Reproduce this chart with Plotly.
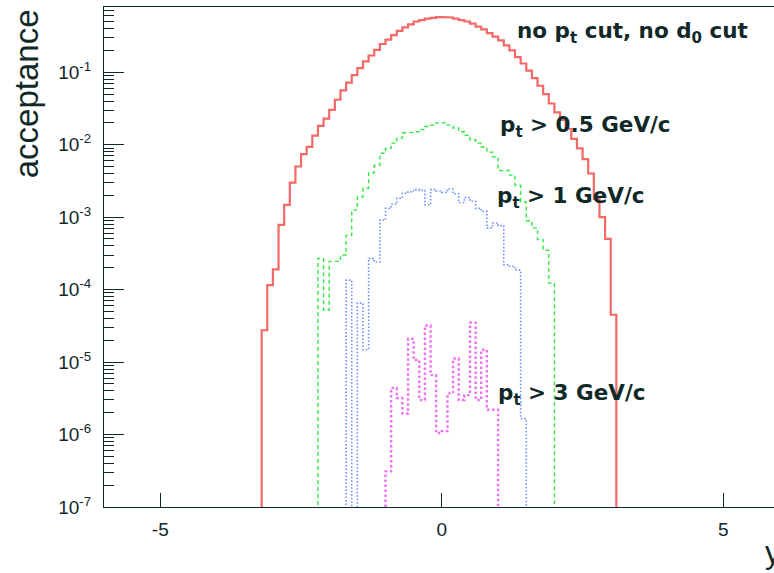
import plotly.graph_objects as go

# ---------------- data ----------------
BIN_W = 0.1
FLOOR = 1e-9  # used for empty bins / drop to the axis (below visible range)

# no pt cut, no d0 cut : bins from -3.2 to 3.1
red_lo = -3.2
red_vals = [2.75e-5, 1.15e-4, 1.9e-4, 7.8e-4, 1.48e-3, 3.0e-3, 5.0e-3, 7.4e-3, 9.3e-3,
            1.33e-2, 1.82e-2, 2.29e-2, 3.02e-2, 4.17e-2, 5.6e-2, 7.2e-2, 9.1e-2, 0.114,
            0.141, 0.170, 0.204, 0.245, 0.282, 0.324, 0.372, 0.417, 0.457, 0.501, 0.525,
            0.550, 0.562, 0.575, 0.575, 0.569, 0.550, 0.525, 0.501, 0.468, 0.427, 0.389,
            0.347, 0.309, 0.275, 0.234, 0.200, 0.162, 0.132, 0.105, 8.3e-2, 6.5e-2,
            5.0e-2, 3.7e-2, 2.8e-2, 2.2e-2, 1.66e-2, 1.2e-2, 8.9e-3, 6.3e-3, 4.0e-3,
            1.78e-3, 1.0e-3, 5.0e-4, 4.5e-5]

# pt > 0.5 GeV/c : bins from -2.2 to 2.0
green_lo = -2.2
green_vals = [2.7e-4, 5.2e-5, 2.45e-4, 2.45e-4, 3.0e-4, 5.6e-4, 1.26e-3, 1.9e-3, 2.5e-3,
              4.1e-3, 5.2e-3, 7.6e-3, 8.9e-3, 1.05e-2, 1.23e-2, 1.45e-2, 1.48e-2, 1.51e-2,
              1.62e-2, 1.78e-2, 1.86e-2, 2.0e-2, 2.0e-2, 1.86e-2, 1.7e-2, 1.51e-2, 1.35e-2,
              1.17e-2, 1.05e-2, 9.3e-3, 7.9e-3, 6.8e-3, 4.4e-3, 4.4e-3, 3.8e-3, 2.75e-3,
              1.62e-3, 8.9e-4, 7.1e-4, 4.9e-4, 3.5e-4, 1.23e-4]

# pt > 1 GeV/c : bins from -1.7 to 1.5
blue_lo = -1.7
blue_vals = [1.35e-4, 0, 6.5e-5, 1.48e-5, 2.7e-4, 2.4e-4, 9.1e-4, 1.32e-3, 1.51e-3, 1.82e-3,
             2.14e-3, 2.24e-3, 2.4e-3, 2.34e-3, 1.48e-3, 2.4e-3, 2.3e-3, 2.2e-3, 2.45e-3,
             2.1e-3, 1.58e-3, 1.86e-3, 1.66e-3, 1.32e-3, 1.2e-3, 7.1e-4, 8.3e-4, 7.6e-4,
             2.2e-4, 2.1e-4, 1.86e-4, 1.66e-6]

# pt > 3 GeV/c : bins from -1.0 to 1.0
mag_lo = -1.0
mag_vals = [3.1e-7, 4.4e-6, 3.2e-6, 1.95e-6, 2.1e-5, 1.07e-5, 3.0e-6, 3.2e-5, 6.6e-6, 1.05e-6,
            1.12e-6, 3.7e-6, 1.12e-5, 3.0e-6, 3.5e-6, 3.5e-5, 3.0e-6, 1.48e-5, 2.2e-6, 2.2e-6]

y_tickvals = [1e-7, 1e-6, 1e-5, 1e-4, 1e-3, 1e-2, 1e-1]
y_ticktext = ["10<sup>-7</sup>", "10<sup>-6</sup>", "10<sup>-5</sup>", "10<sup>-4</sup>",
              "10<sup>-3</sup>", "10<sup>-2</sup>", "10<sup>-1</sup>"]
x_tickvals = [-5, 0, 5]
x_ticktext = ["-5", "0", "5"]

labels = ["no p<sub>t</sub> cut, no d<sub>0</sub> cut", "p<sub>t</sub> > 0.5 GeV/c",
          "p<sub>t</sub> > 1 GeV/c", "p<sub>t</sub> > 3 GeV/c"]


def step_path(lo, vals):
    edges = [round(lo + i * BIN_W, 4) for i in range(len(vals) + 1)]
    xs, ys = [edges[0]], [FLOOR]
    for i, v in enumerate(vals):
        v = v if v > 0 else FLOOR
        xs += [edges[i], edges[i + 1]]
        ys += [v, v]
    xs.append(edges[-1])
    ys.append(FLOOR)
    return xs, ys


fig = go.Figure()
series = [
    (red_lo, red_vals, dict(color="#f46868", width=2.2, dash="solid")),
    (green_lo, green_vals, dict(color="#33ea44", width=1.4, dash="4px,3px")),
    (blue_lo, blue_vals, dict(color="#6c8cff", width=1.6, dash="1.5px,2px")),
    (mag_lo, mag_vals, dict(color="#f070f0", width=2.4, dash="2.5px,2.5px")),
]
for lo, vals, ln in series:
    xs, ys = step_path(lo, vals)
    fig.add_trace(go.Scatter(x=xs, y=ys, mode="lines", line=ln, hoverinfo="skip",
                             showlegend=False))

TXT = "#102828"
tick_font = dict(family="Liberation Sans, Arial, sans-serif", size=19, color=TXT)

fig.update_layout(
    width=774, height=573,
    margin=dict(l=104, r=0, t=7, b=66),
    paper_bgcolor="white", plot_bgcolor="white",
    showlegend=False,
    xaxis=dict(range=[-6, 5.9], tickmode="array", tickvals=x_tickvals, ticktext=x_ticktext,
               ticks="inside", ticklen=14, tickwidth=1, tickcolor=TXT,
               showline=True, linecolor=TXT, linewidth=1.2, mirror=True,
               showgrid=False, zeroline=False, tickfont=dict(tick_font, size=19),
               ticklabelstandoff=5),
    yaxis=dict(type="log", range=[-7, -0.1], tickmode="array", tickvals=y_tickvals,
               ticktext=y_ticktext, ticks="inside", ticklen=20, tickwidth=1, tickcolor=TXT,
               showline=True, linecolor=TXT, linewidth=1.2, showgrid=False, zeroline=False,
               tickfont=tick_font, ticklabelstandoff=8,
               minor=dict(ticks="inside", ticklen=10, tickwidth=1, tickcolor=TXT,
                          dtick="D1", showgrid=False)),
)

ann_font = dict(family="DejaVu Sans, sans-serif", size=21.5, color=TXT)
positions = [(0.613, 0.950), (0.588, 0.762), (0.5836, 0.619), (0.585, 0.226)]
for text, (px, py) in zip(labels, positions):
    fig.add_annotation(text="<b>" + text + "</b>", x=px, y=py, xref="paper", yref="paper",
                       xanchor="left", yanchor="middle", showarrow=False, font=ann_font)

fig.add_annotation(text="acceptance", x=-0.116, y=0.826, xref="paper", yref="paper",
                   xanchor="center", yanchor="middle", textangle=-90, showarrow=False,
                   font=dict(family="Liberation Sans, Arial, sans-serif", size=33, color=TXT))
fig.add_annotation(text="y", x=0.9836, y=-0.09, xref="paper", yref="paper",
                   xanchor="left", yanchor="middle", showarrow=False,
                   font=dict(family="Liberation Sans, Arial, sans-serif", size=31, color=TXT))

fig.write_html("out.html", config={"displayModeBar": False},
               post_script="document.body.style.margin='0';"
                           "document.body.style.overflow='hidden';")
